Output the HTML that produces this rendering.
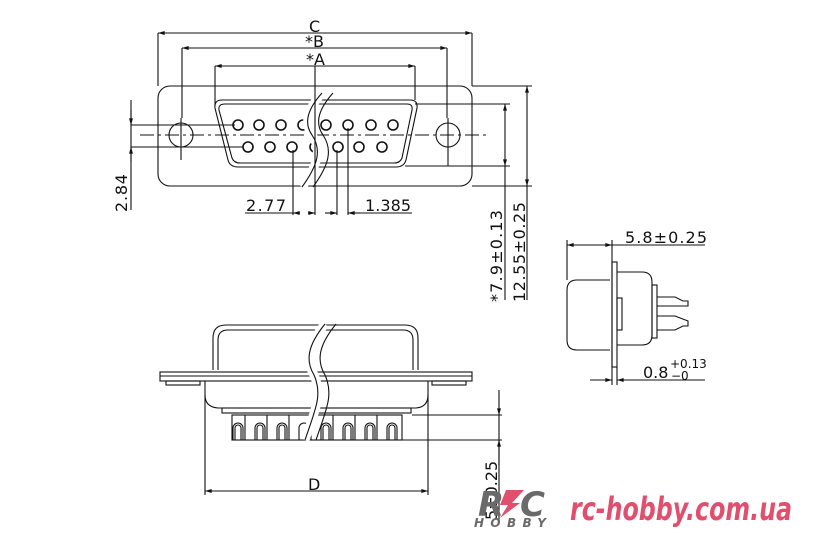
<!DOCTYPE html>
<html><head><meta charset="utf-8"><style>
html,body{margin:0;padding:0;background:#fff;}
svg{display:block;}
text{font-family:"DejaVu Sans","Liberation Sans",sans-serif;fill:#111;}
</style></head><body>
<svg width="825" height="550" viewBox="0 0 825 550" xmlns="http://www.w3.org/2000/svg">
<defs>
<marker id="a" viewBox="0 0 10 6" refX="10" refY="3" markerWidth="10" markerHeight="4" orient="auto-start-reverse" markerUnits="userSpaceOnUse"><path d="M0,0 L10,3 L0,6z" fill="#111"/></marker>
</defs>
<g stroke="#111" stroke-width="1.1" fill="none">
<rect x="158" y="86" width="314" height="100" rx="12"/>
<path d="M222,100 L410,100 Q418,100 417,108 L406,160 Q404,167 396,167 L238,167 Q230,167 228,160 L215,108 Q214,100 222,100Z"/>
<path d="M225,104 L407,104 Q413,104 412,110 L402,158 Q400,163 394,163 L240,163 Q234,163 232,158 L219,110 Q218,104 225,104Z"/>
<circle cx="181" cy="135" r="12"/><circle cx="448" cy="135" r="12"/>
<g stroke-width="1.6">
<circle cx="238" cy="125" r="5"/><circle cx="259" cy="125" r="5"/><circle cx="281" cy="125" r="5"/><circle cx="303" cy="125" r="5"/><circle cx="326" cy="125" r="5"/><circle cx="348" cy="125" r="5"/><circle cx="371" cy="125" r="5"/><circle cx="393" cy="125" r="5"/>
<circle cx="248" cy="147" r="5"/><circle cx="270" cy="147" r="5"/><circle cx="292" cy="147" r="5"/><circle cx="315" cy="147" r="5"/><circle cx="338" cy="147" r="5"/><circle cx="359" cy="147" r="5"/><circle cx="382" cy="147" r="5"/>
</g>
<line x1="140" y1="135" x2="490" y2="135" stroke-dasharray="14,4,3,4"/>
<line x1="181" y1="118" x2="181" y2="160"/><line x1="448" y1="118" x2="448" y2="166"/>
<path d="M322,93 C305,112 305,125 312,135 C322,150 318,165 302,187" stroke="#fff" stroke-width="9"/>
<path d="M322,93 C305,112 305,125 312,135 C322,150 318,165 302,187"/>
<path d="M333,93 C316,112 316,125 323,135 C333,150 329,165 313,187"/>
<line x1="158" y1="33" x2="472" y2="33" marker-start="url(#a)" marker-end="url(#a)"/>
<line x1="158" y1="33" x2="158" y2="86"/><line x1="472" y1="33" x2="472" y2="86"/>
<line x1="182" y1="48" x2="447" y2="48" marker-start="url(#a)" marker-end="url(#a)"/>
<line x1="182" y1="48" x2="182" y2="118"/><line x1="447" y1="48" x2="447" y2="118"/>
<line x1="215" y1="66" x2="415" y2="66" marker-start="url(#a)" marker-end="url(#a)"/>
<line x1="215" y1="66" x2="215" y2="105"/><line x1="415" y1="66" x2="415" y2="100"/>
<line x1="315" y1="66" x2="315" y2="215"/>
<line x1="415" y1="104" x2="510" y2="104"/><line x1="405" y1="166" x2="510" y2="166"/>
<line x1="472" y1="86" x2="532" y2="86"/><line x1="472" y1="186" x2="532" y2="186"/>
<line x1="505" y1="104" x2="505" y2="166" marker-start="url(#a)" marker-end="url(#a)"/>
<line x1="505" y1="166" x2="505" y2="300"/>
<line x1="527" y1="86" x2="527" y2="186" marker-start="url(#a)" marker-end="url(#a)"/>
<line x1="527" y1="186" x2="527" y2="300"/>
<line x1="131" y1="100" x2="131" y2="210"/>
<line x1="131" y1="110" x2="131" y2="125" marker-end="url(#a)"/>
<line x1="131" y1="162" x2="131" y2="147" marker-end="url(#a)"/>
<line x1="131" y1="125" x2="235" y2="125"/><line x1="131" y1="147" x2="243" y2="147"/>
<line x1="293" y1="150" x2="293" y2="215"/><line x1="337" y1="150" x2="337" y2="215"/><line x1="348" y1="128" x2="348" y2="215"/>
<line x1="245" y1="213" x2="293" y2="213"/>
<line x1="300" y1="213" x2="293" y2="213" marker-end="url(#a)"/><line x1="308" y1="213" x2="315" y2="213" marker-end="url(#a)"/>
<line x1="325" y1="213" x2="337" y2="213" marker-end="url(#a)"/><line x1="360" y1="213" x2="348" y2="213" marker-end="url(#a)"/>
<line x1="348" y1="213" x2="412" y2="213"/>
<path d="M213,370 L213,338 Q213,325 226,325 L405,325 Q418,325 418,338 L418,370"/>
<path d="M218,370 L218,340 Q218,330 228,330 L403,330 Q413,330 413,340 L413,370"/>
<rect x="160" y="372" width="312" height="9"/>
<line x1="160" y1="376" x2="472" y2="376"/>
<rect x="166" y="381" width="34" height="4"/><rect x="432" y="381" width="34" height="4"/>
<path d="M205,381 L205,395 Q205,407 218,408 L416,408 Q428,407 428,395 L428,381"/>
<rect x="222" y="408" width="189" height="5"/>
<rect x="232" y="415" width="170" height="25"/>
<g>
<path d="M233,440 V428 a5,5 0 0 1 10,0 V440"/><path d="M235,440 V428 a3,3 0 0 1 6,0 V440"/>
<path d="M255,440 V428 a5,5 0 0 1 10,0 V440"/><path d="M257,440 V428 a3,3 0 0 1 6,0 V440"/>
<path d="M277,440 V428 a5,5 0 0 1 10,0 V440"/><path d="M279,440 V428 a3,3 0 0 1 6,0 V440"/>
<path d="M299,440 V428 a5,5 0 0 1 10,0 V440"/>
<path d="M321,440 V428 a5,5 0 0 1 10,0 V440"/><path d="M323,440 V428 a3,3 0 0 1 6,0 V440"/>
<path d="M343,440 V428 a5,5 0 0 1 10,0 V440"/><path d="M345,440 V428 a3,3 0 0 1 6,0 V440"/>
<path d="M365,440 V428 a5,5 0 0 1 10,0 V440"/><path d="M367,440 V428 a3,3 0 0 1 6,0 V440"/>
<path d="M387,440 V428 a5,5 0 0 1 10,0 V440"/><path d="M389,440 V428 a3,3 0 0 1 6,0 V440"/>
<line x1="245" y1="415" x2="245" y2="440"/><line x1="267" y1="415" x2="267" y2="440"/><line x1="289" y1="415" x2="289" y2="440"/><line x1="311" y1="415" x2="311" y2="440"/><line x1="333" y1="415" x2="333" y2="440"/><line x1="355" y1="415" x2="355" y2="440"/><line x1="377" y1="415" x2="377" y2="440"/>
</g>
<path d="M325,324 C308,345 305,360 314,375 C323,395 315,410 305,440" stroke="#fff" stroke-width="9"/>
<path d="M325,324 C308,345 305,360 314,375 C323,395 315,410 305,440"/>
<path d="M336,324 C319,345 316,360 325,375 C334,395 326,410 316,440"/>
<line x1="205" y1="395" x2="205" y2="495"/><line x1="428" y1="395" x2="428" y2="495"/>
<line x1="205" y1="491" x2="428" y2="491" marker-start="url(#a)" marker-end="url(#a)"/>
<line x1="412" y1="415" x2="502" y2="415"/><line x1="402" y1="440" x2="502" y2="440"/>
<line x1="499" y1="390" x2="499" y2="415" marker-end="url(#a)"/>
<line x1="499" y1="465" x2="499" y2="440" marker-end="url(#a)"/>
<line x1="499" y1="415" x2="499" y2="440"/>
<line x1="499" y1="440" x2="499" y2="520"/>
<path d="M610,280 L577,280 Q567,280 567,290 L567,340 Q567,350 577,350 L610,350"/>
<rect x="612" y="262" width="5" height="105"/>
<path d="M617,272 L642,272 Q652,272 652,282 L652,335 Q652,345 642,345 L617,345"/>
<rect x="617" y="298" width="5" height="32"/>
<rect x="652" y="285" width="5" height="53"/>
<path d="M657,297 L675,297 L683,301 L688,301 L688,306 L675,306 L657,306"/>
<path d="M657,316 L675,316 L688,321 L688,326 L683,326 L675,330 L657,330"/>
<line x1="567" y1="240" x2="567" y2="280"/>
<line x1="612" y1="240" x2="612" y2="385"/><line x1="617" y1="367" x2="617" y2="385"/>
<line x1="567" y1="245" x2="612" y2="245" marker-start="url(#a)" marker-end="url(#a)"/>
<line x1="612" y1="245" x2="705" y2="245"/>
<line x1="590" y1="380" x2="612" y2="380" marker-end="url(#a)"/>
<line x1="640" y1="380" x2="617" y2="380" marker-end="url(#a)"/>
<line x1="617" y1="380" x2="705" y2="380"/>
</g>
<g font-size="16">
<text x="309" y="32">C</text>
<text x="305" y="47">*B</text>
<text x="306" y="65">*A</text>
<text x="246" y="211" textLength="40">2.77</text>
<text x="365" y="211" textLength="46">1.385</text>
<text x="625" y="243" textLength="82">5.8±0.25</text>
<text x="643" y="378">0.8</text>
<text x="670" y="368" font-size="12">+0.13</text>
<text x="671" y="380" font-size="12">−0</text>
<text x="308" y="490">D</text>
<text transform="translate(127,212) rotate(-90)" textLength="38">2.84</text>
<text transform="translate(502,302) rotate(-90)" textLength="92">*7.9±0.13</text>
<text transform="translate(525,302) rotate(-90)" textLength="100">12.55±0.25</text>
<text transform="translate(497,520) rotate(-90)">5±0.25</text>
</g>
<text x="478" y="516" font-family="Liberation Sans,sans-serif" font-weight="bold" font-style="italic" font-size="34" style="fill:#6a6a6a">R</text>
<path d="M506,490 L524,490 L512,503 L520,503 L500,518 L508,505 L500,505Z" fill="#e0506e"/>
<text x="520" y="516" font-family="Liberation Sans,sans-serif" font-weight="bold" font-style="italic" font-size="34" style="fill:#6a6a6a">C</text>
<text x="474" y="527" font-family="Liberation Sans,sans-serif" font-weight="bold" font-style="italic" font-size="12" style="fill:#6a6a6a" textLength="72">HOBBY</text>
<text x="570" y="520" font-family="Liberation Sans,sans-serif" font-weight="bold" font-style="italic" font-size="32" style="fill:#e0506e" textLength="222" lengthAdjust="spacingAndGlyphs">rc-hobby.com.ua</text>
</svg>
</body></html>
